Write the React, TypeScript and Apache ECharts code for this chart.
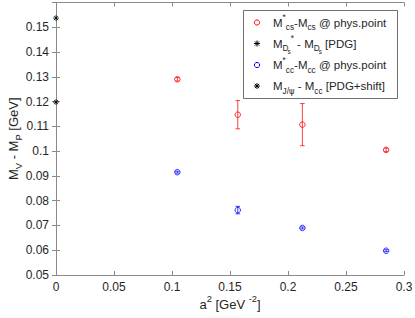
import React, { useEffect, useRef } from "react";
import * as echarts from "echarts";

const FONT = '"Liberation Sans", Arial, Helvetica, sans-serif';

// data
const xLattice = [0.1046, 0.1567, 0.2124, 0.2846];
const yCS = [0.129, 0.1147, 0.1107, 0.1005];
const errCS = [0.0007, 0.0057, 0.0085, 0.0007];
const yCC = [0.0915, 0.0762, 0.069, 0.0598];
const errCC = [0.0004, 0.0015, 0.0004, 0.0004];
const xPhys = [0];
const yDs = [0.1537];
const yJpsi = [0.1198];

const xTicks = { min: 0, max: 0.3, interval: 0.05 };
const yTicks = { min: 0.05, max: 0.16, interval: 0.01 };

type Seg = { t: string; k?: "n" | "sub" | "sup" | "ss"; f?: string };
const legendRows: Seg[][] = [
  [{ t: "M" }, { t: "*", k: "sup" }, { t: "cs", k: "sub" }, { t: "-M" }, { t: "cs", k: "sub" }, { t: " @ phys.point" }],
  [{ t: "M" }, { t: "D", k: "sub" }, { t: "s", k: "ss" }, { t: "*", k: "sup" }, { t: " - M" }, { t: "D", k: "sub" }, { t: "s", k: "ss" }, { t: " [PDG]" }],
  [{ t: "M" }, { t: "*", k: "sup" }, { t: "cc", k: "sub" }, { t: "-M" }, { t: "cc", k: "sub" }, { t: " @ phys.point" }],
  [{ t: "M" }, { t: "J/", k: "sub" }, { t: "\u03c8", k: "sub", f: '"DejaVu Sans"' }, { t: " - M" }, { t: "cc", k: "sub" }, { t: " [PDG+shift]" }],
];
const xTitle = "{n|a}{sup|2}{n| [GeV }{sup|-2}{n|]}";
const yTitle = "{n|M}{sub|V}{n| - M}{sub|P}{n| [GeV]}";

const RED = "#ff0000";
const BLUE = "#0000ff";
const AXIS = "#8a8a8a";
const TXT = "#262626";

const STAR = "path://M5,0L5,10M0,5L10,5M1.6,1.6L8.4,8.4M1.6,8.4L8.4,1.6";

function richStyles(S: number, LH: number) {
  const c = { color: TXT, fontFamily: FONT };
  return {
    n: { ...c, fontSize: S, lineHeight: LH, verticalAlign: "middle" },
    sub: { ...c, fontSize: S * 0.72, verticalAlign: "bottom" },
    sup: { ...c, fontSize: S * 0.72, verticalAlign: "top" },
  };
}

let ctx: CanvasRenderingContext2D | null = null;
function tw(t: string, size: number, fam: string) {
  if (!ctx) ctx = document.createElement("canvas").getContext("2d");
  ctx!.font = `${size}px ${fam}`;
  return ctx!.measureText(t).width;
}

function richLine(segs: Seg[], S: number, x0: number, y0: number) {
  const items: any[] = [];
  let x = x0;
  for (const s of segs) {
    const k = s.k || "n";
    const fam = s.f || '"Liberation Sans"';
    let size = S, dy = 0;
    if (k === "sub") { size = S * 0.72; dy = S * 0.45; }
    if (k === "sup") { size = S * 0.72; dy = -S * 0.42; }
    if (k === "ss") { size = S * 0.55; dy = S * 0.72; }
    const px = k === "ss" ? x - 1 : x;
    items.push({
      type: "text",
      z: 11,
      x: px,
      y: y0 + dy,
      style: { text: s.t, fontSize: size, fontFamily: s.f ? s.f + ", sans-serif" : FONT, fill: TXT, align: "left", verticalAlign: "middle" },
    });
    x = px + tw(s.t, size, fam);
  }
  return items;
}

function starGraphic(cx: number, cy: number, r: number, color: string) {
  const d = r * 0.707;
  const mk = (x1: number, y1: number, x2: number, y2: number) => ({
    type: "line",
    z: 11,
    shape: { x1: cx + x1, y1: cy + y1, x2: cx + x2, y2: cy + y2 },
    style: { stroke: color, lineWidth: 1 },
  });
  return [mk(0, -r, 0, r), mk(-r, 0, r, 0), mk(-d, -d, d, d), mk(-d, d, d, -d)];
}

function errSeries(y: number[], e: number[], color: string) {
  return {
    type: "custom",
    xAxisIndex: 0,
    yAxisIndex: 0,
    clip: false,
    z: 3,
    data: xLattice.map((v, i) => [v, y[i] - e[i], y[i] + e[i]]),
    encode: { x: 0, y: [1, 2] },
    renderItem: (_p: any, api: any) => {
      const x = api.value(0);
      const a = api.coord([x, api.value(1)]);
      const b = api.coord([x, api.value(2)]);
      const w = 2.3;
      const st = { stroke: color, lineWidth: 1, opacity: 0.75 };
      return {
        type: "group",
        children: [
          { type: "line", shape: { x1: a[0], y1: a[1], x2: b[0], y2: b[1] }, style: st },
          { type: "line", shape: { x1: a[0] - w, y1: a[1], x2: a[0] + w, y2: a[1] }, style: st },
          { type: "line", shape: { x1: b[0] - w, y1: b[1], x2: b[0] + w, y2: b[1] }, style: st },
        ],
      };
    },
  };
}

export default function App() {
  const ref = useRef<HTMLDivElement>(null);
  useEffect(() => {
    const chart = echarts.init(ref.current!, null, { renderer: "svg" });
    const axisCommon = {
      axisLine: { show: true, lineStyle: { color: AXIS, width: 1 } },
      axisTick: { show: true, inside: true, length: 4, lineStyle: { color: AXIS } },
      splitLine: { show: false },
    };
    const fmt = (v: number) => String(+v.toFixed(3));
    const lx = 257, tx = 273;
    const rows = [22.5, 43.5, 65, 86];
    const legend: any[] = [
      { type: "rect", z: 10, shape: { x: 243.5, y: 10.5, width: 154, height: 88 }, style: { fill: "#fff", stroke: "#4a4a4a", lineWidth: 0.8 } },
      { type: "circle", z: 11, shape: { cx: lx, cy: rows[0], r: 2.6 }, style: { fill: "none", stroke: RED, lineWidth: 1 } },
      ...starGraphic(lx, rows[1], 3, "#000"),
      { type: "circle", z: 11, shape: { cx: lx, cy: rows[2], r: 2.6 }, style: { fill: "none", stroke: BLUE, lineWidth: 1 } },
      ...starGraphic(lx, rows[3], 3, "#000"),
      ...legendRows.flatMap((segs, i) => richLine(segs, 11.5, tx, rows[i])),
    ];
    chart.setOption({
      animation: false,
      grid: { left: 56, right: 11, top: 2.5, bottom: 43, containLabel: false, outerBoundsMode: "none" },
      xAxis: [
        {
          type: "value", position: "bottom", ...xTicks, ...axisCommon,
          axisLabel: { color: TXT, fontSize: 12, fontFamily: FONT, margin: 6, formatter: fmt },
          name: xTitle, nameLocation: "middle", nameGap: 19, nameMoveOverlap: false,
          nameTextStyle: { rich: richStyles(13, 20) },
        },
        {
          type: "value", position: "top", ...xTicks, ...axisCommon,
          axisLabel: { show: false },
        },
      ],
      yAxis: [
        {
          type: "value", position: "left", ...yTicks, ...axisCommon,
          axisLabel: { color: TXT, fontSize: 12, fontFamily: FONT, margin: 7, formatter: fmt, showMaxLabel: false },
          name: yTitle, nameLocation: "middle", nameGap: 33, nameMoveOverlap: false,
          nameTextStyle: { rich: richStyles(13, 20) },
        },
        {
          type: "value", position: "right", ...yTicks, ...axisCommon,
          axisLabel: { show: false },
        },
      ],
      series: [
        errSeries(yCS, errCS, RED),
        errSeries(yCC, errCC, BLUE),
        {
          type: "scatter", name: "cs", data: xLattice.map((v, i) => [v, yCS[i]]),
          symbol: "circle", symbolSize: 5.5, clip: false, z: 4,
          itemStyle: { color: "rgba(0,0,0,0)", borderColor: RED, borderWidth: 1 },
        },
        {
          type: "scatter", name: "cc", data: xLattice.map((v, i) => [v, yCC[i]]),
          symbol: "circle", symbolSize: 5.5, clip: false, z: 4,
          itemStyle: { color: "rgba(0,0,0,0)", borderColor: BLUE, borderWidth: 1 },
        },
        {
          type: "scatter", name: "Ds", data: xPhys.map((v, i) => [v, yDs[i]]),
          symbol: STAR, symbolSize: 6, clip: false, z: 5,
          itemStyle: { color: "none", borderColor: "#000", borderWidth: 1 },
        },
        {
          type: "scatter", name: "Jpsi", data: xPhys.map((v, i) => [v, yJpsi[i]]),
          symbol: STAR, symbolSize: 6, clip: false, z: 5,
          itemStyle: { color: "none", borderColor: "#000", borderWidth: 1 },
        },
      ],
      graphic: legend,
    });
    return () => chart.dispose();
  }, []);
  return <div ref={ref} style={{ position: "fixed", left: 0, top: 0, width: 415, height: 318, background: "#fff" }} />;
}
